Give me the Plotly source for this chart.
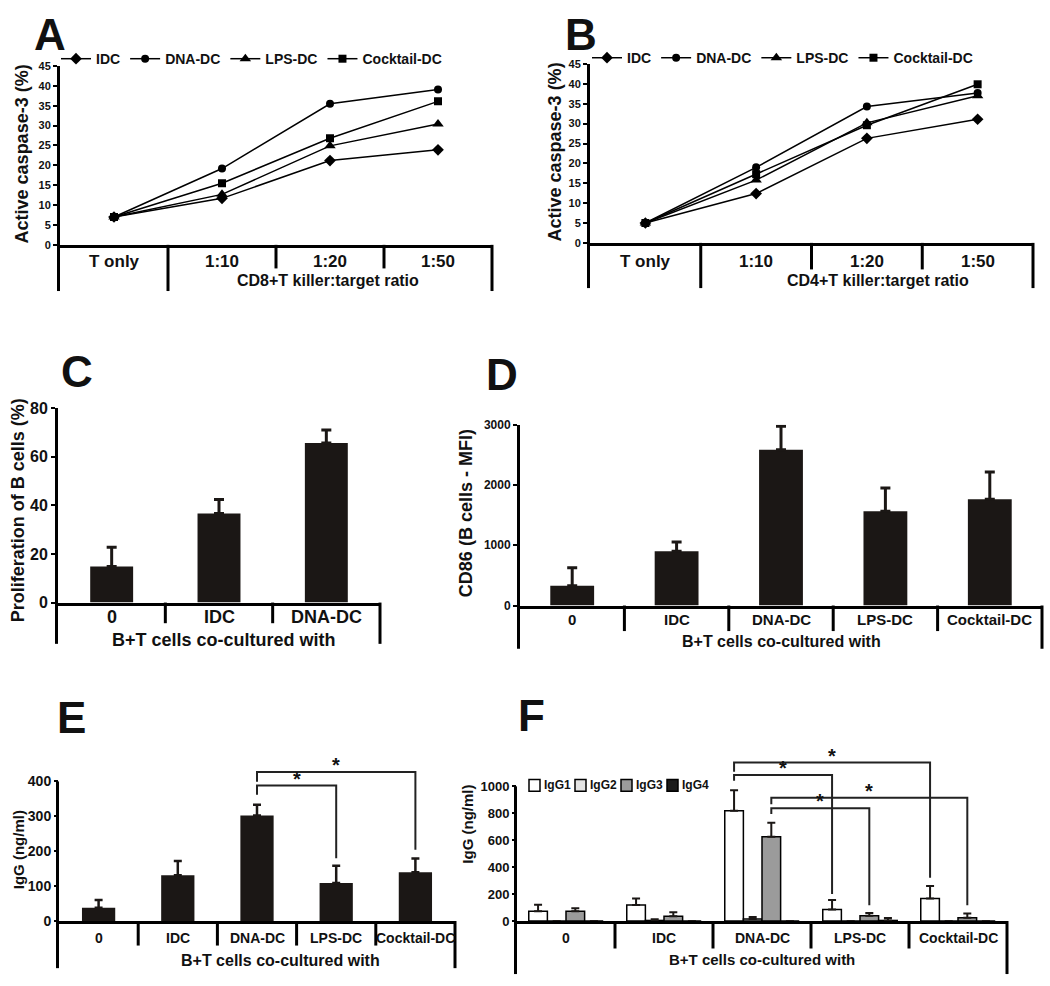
import plotly.graph_objects as go

# ---------------- data ----------------
ratios = ['T only', '1:10', '1:20', '1:50']
dc_names = ['IDC', 'DNA-DC', 'LPS-DC', 'Cocktail-DC']

# A: CD8+ T cells, active caspase-3 (%)
a_idc = [7.0, 11.7, 21.2, 23.9]
a_dna = [7.0, 19.2, 35.5, 39.1]
a_lps = [7.0, 12.7, 24.9, 30.4]
a_cocktail = [7.0, 15.5, 26.8, 36.1]

# B: CD4+ T cells, active caspase-3 (%)
b_idc = [5.0, 12.4, 26.3, 31.1]
b_dna = [5.0, 19.0, 34.3, 37.7]
b_lps = [5.0, 15.8, 30.2, 37.0]
b_cocktail = [5.0, 17.3, 29.6, 39.9]

coculture = ['0', 'IDC', 'DNA-DC', 'LPS-DC', 'Cocktail-DC']

# C: proliferation of B cells (%)
c_groups = ['0', 'IDC', 'DNA-DC']
c_prolif = [14.8, 36.6, 65.6]
c_sd = [7.9, 5.8, 5.3]

# D: CD86 MFI on B cells
d_cd86 = [330, 900, 2585, 1565, 1765]
d_sd = [295, 155, 390, 385, 450]

# E: total IgG (ng/ml)
e_igg = [38, 131, 302, 109, 140]
e_sd = [22, 41, 31, 49, 39]

# F: IgG subclasses (ng/ml)
igg_sub = ['IgG1', 'IgG2', 'IgG3', 'IgG4']
f_igg1 = [72, 118, 818, 86, 167]
f_igg1_sd = [48, 49, 153, 70, 92]
f_igg2 = [0, 4, 15, 0, 0]
f_igg2_sd = [0, 8, 15, 0, 0]
f_igg3 = [72, 36, 625, 38, 24]
f_igg3_sd = [23, 29, 104, 22, 31]
f_igg4 = [0, 0, 0, 4, 0]
f_igg4_sd = [0, 0, 0, 18, 0]

# significance comparisons
e_sig = [('DNA-DC', 'LPS-DC'), ('DNA-DC', 'Cocktail-DC')]
f_sig = [('DNA-DC', 'LPS-DC', 'IgG1'), ('DNA-DC', 'Cocktail-DC', 'IgG1'),
         ('DNA-DC', 'LPS-DC', 'IgG3'), ('DNA-DC', 'Cocktail-DC', 'IgG3')]

# ---------------- layout helpers ----------------
W, H = 1050, 986
FONT = 'Liberation Sans, Arial, sans-serif'
INK = '#1b1715'
BARGAP = 0.24


def fx(px):
    return px / W


def fy(py):
    return 1 - py / H


def bold(size, family=FONT):
    return dict(family=family, size=size, weight='bold', color='#111')


fig = go.Figure()
annots = []
shapes = []


def text(x, y, s, font, xref='paper', yref='paper', angle=0, **kw):
    kw.setdefault('xanchor', 'center')
    kw.setdefault('yanchor', 'middle')
    annots.append(dict(x=x, y=y, xref=xref, yref=yref, text=s, font=font,
                       showarrow=False, textangle=angle, **kw))


def panel(i, left, right, top, bottom, yrange, cats, yticks, tickfont, base, mid,
          full, catfont, cat_y, title, title_xy, titlefont, yline=True):
    sfx = '' if i == 1 else str(i)
    n = len(cats)
    fig.update_layout(**{
        'xaxis' + sfx: dict(domain=[fx(left), fx(right)], range=[-0.5, n - 0.5],
                            anchor='y' + sfx, showline=True, linewidth=3,
                            linecolor='black', ticks='', showticklabels=False,
                            showgrid=False, zeroline=False),
        'yaxis' + sfx: dict(domain=[fy(bottom), fy(top)], range=yrange,
                            anchor='x' + sfx, showline=yline, linewidth=3,
                            linecolor='black', ticks='outside', ticklen=4,
                            tickwidth=2, tickcolor='black', tickvals=yticks,
                            tickfont=tickfont, showgrid=False, zeroline=False),
    })
    # category separators hanging below the x axis (outer / grouping ones are longer)
    for k in range(n + 1):
        x = left + k * (right - left) / n - (1.5 if k == 0 else 0)
        end = base if (k == 0 or k == n or k in full) else mid
        shapes.append(dict(type='line', xref='paper', yref='paper',
                           x0=fx(x), x1=fx(x), y0=fy(bottom), y1=fy(end),
                           line=dict(color='black', width=3)))
    for k, c in enumerate(cats):
        text(k, fy(cat_y), c, catfont, xref='x' + sfx)
    text(fx(title_xy[0]), fy(title_xy[1]), title, titlefont)
    if not yline:
        shapes.append(dict(type='line', xref='paper', yref='y' + sfx,
                           x0=fx(left - 1.5), x1=fx(left - 1.5),
                           y0=0, y1=yticks[-1],
                           line=dict(color='black', width=3)))


# ---------------- panels A / B: lines ----------------
symbols = ['diamond', 'circle', 'triangle-up', 'square']
sizes = [9, 8, 10, 8]
for ys, name, sym, sz in zip([a_idc, a_dna, a_lps, a_cocktail], dc_names, symbols, sizes):
    fig.add_trace(go.Scatter(x=list(range(len(ratios))), y=ys, name=name,
                             mode='lines+markers', xaxis='x', yaxis='y', legend='legend',
                             line=dict(color='black', width=1.5),
                             marker=dict(symbol=sym, size=sz, color='black')))
for ys, name, sym, sz in zip([b_idc, b_dna, b_lps, b_cocktail], dc_names, symbols, sizes):
    fig.add_trace(go.Scatter(x=list(range(len(ratios))), y=ys, name=name,
                             mode='lines+markers', xaxis='x2', yaxis='y2', legend='legend2',
                             line=dict(color='black', width=1.5),
                             marker=dict(symbol=sym, size=sz, color='black')))

panel(1, 60, 492, 59, 241, [0, 45], ratios, list(range(0, 46, 5)), bold(11), 288, 265,
      [1], bold(17), 258, 'CD8+T killer:target ratio', (328, 277), bold(16))
panel(2, 590, 1033, 57, 239, [0, 45], ratios, list(range(0, 46, 5)), bold(11), 285, 266,
      [1], bold(17), 258, 'CD4+T killer:target ratio', (878, 277), bold(16))


def err(sd, w, t=3):
    return dict(type='data', array=sd, arrayminus=[0] * len(sd), symmetric=False,
                color=INK, thickness=t, width=w)


# ---------------- panel C ----------------
fig.add_trace(go.Bar(x=list(range(len(c_prolif))), y=c_prolif, width=0.4,
                     marker=dict(color=INK, line=dict(width=0)),
                     error_y=err(c_sd, 5), xaxis='x3', yaxis='y3', showlegend=False))
panel(3, 58, 380, 407, 605, [0, 80], c_groups, [0, 20, 40, 60, 80], bold(16), 647, 626,
      [], bold(18), 620, 'B+T cells co-cultured with', (224, 643), bold(18))

# ---------------- panel D ----------------
fig.add_trace(go.Bar(x=list(range(len(d_cd86))), y=d_cd86, width=0.42,
                     marker=dict(color=INK, line=dict(width=0)),
                     error_y=err(d_sd, 5), xaxis='x4', yaxis='y4', showlegend=False))
panel(4, 520, 1042, 424, 608, [0, 3000], coculture, [0, 1000, 2000, 3000],
      bold(12), 652, 634, [], bold(15), 622, 'B+T cells co-cultured with',
      (781, 645), bold(16))

# ---------------- panel E ----------------
e_top = 929 - (929 - 787) * 480 / 400
fig.add_trace(go.Bar(x=list(range(len(e_igg))), y=e_igg, width=0.42,
                     marker=dict(color=INK, line=dict(width=0)),
                     error_y=err(e_sd, 4, 2.5), xaxis='x5', yaxis='y5', showlegend=False))
panel(5, 59, 455, e_top, 929, [0, 480], coculture, [0, 100, 200, 300, 400], bold(14),
      977, 954, [], bold(14), 946, 'B+T cells co-cultured with', (280, 969), bold(16),
      yline=False)

# ---------------- panel F ----------------
f_top = 929 - (929 - 792) * 1300 / 1000
f_colors = ['#ffffff', '#e4e4e4', '#9b9b9b', '#1b1b1b']
for ys, sd, name, col in zip([f_igg1, f_igg2, f_igg3, f_igg4],
                             [f_igg1_sd, f_igg2_sd, f_igg3_sd, f_igg4_sd],
                             igg_sub, f_colors):
    fig.add_trace(go.Bar(x=list(range(len(coculture))), y=ys, name=name,
                         marker=dict(color=col, line=dict(color='black', width=1.5)),
                         error_y=err(sd, 4, 2), xaxis='x6', yaxis='y6', showlegend=False))
panel(6, 517, 1007, f_top, 929, [0, 1300], coculture, [0, 200, 400, 600, 800, 1000],
      bold(13), 983, 957, [], bold(14), 946, 'B+T cells co-cultured with', (762, 968),
      bold(15), yline=False)

# compact legend for F
for j, (name, col) in enumerate(zip(igg_sub, f_colors)):
    bx = 529 + j * 46
    shapes.append(dict(type='rect', xref='paper', yref='paper',
                       x0=fx(bx), x1=fx(bx + 11), y0=fy(797), y1=fy(785),
                       fillcolor=col, line=dict(color='black', width=1.5)))
    text(fx(bx + 13), fy(791), name, bold(12), xanchor='left')

# ---------------- significance brackets ----------------
e_levels = [(388, 362, 180), (427, 399, 204)]
for (g1, g2), (yt, yl, yr) in zip(e_sig, e_levels):
    xa, xb = coculture.index(g1), coculture.index(g2)
    shapes.append(dict(type='path', xref='x5', yref='y5',
                       path=f'M {xa},{yl} L {xa},{yt} L {xb},{yt} L {xb},{yr}',
                       line=dict(color='#222', width=2)))
    text((xa + xb) / 2, yt, '*', bold(20), xref='x5', yref='y5', yanchor='bottom', yshift=-6)

bw = (1 - BARGAP) / len(igg_sub)
f_levels = [(1085, 1041, 201), (1177, 1109, 322), (838, 794, 116), (915, 867, 116)]
for (g1, g2, sub), (yt, yl, yr) in zip(f_sig, f_levels):
    off = (igg_sub.index(sub) - 1.5) * bw
    xa, xb = coculture.index(g1) + off, coculture.index(g2) + off
    shapes.append(dict(type='path', xref='x6', yref='y6',
                       path=f'M {xa},{yl} L {xa},{yt} L {xb},{yt} L {xb},{yr}',
                       line=dict(color='#222', width=2)))
    text((xa + xb) / 2, yt, '*', bold(20), xref='x6', yref='y6', yanchor='bottom', yshift=-6)

# ---------------- y titles and panel letters ----------------
text(fx(22), fy(149), 'Active caspase-3 (%)', bold(18), angle=-90)
text(fx(555), fy(147), 'Active caspase-3 (%)', bold(18), angle=-90)
text(fx(18), fy(511), 'Proliferation of B cells (%)', bold(18), angle=-90)
text(fx(466), fy(514), 'CD86 (B cells - MFI)', bold(18), angle=-90)
text(fx(18), fy(857), 'IgG (ng/ml)', bold(15), angle=-90)
text(fx(468), fy(831), 'IgG (ng/ml)', bold(15), angle=-90)

for letter, (lx, ly) in zip('ABCDEF', [(50, 27), (581, 27), (77, 370), (502, 373),
                                       (71, 722), (531, 720)]):
    text(fx(lx), fy(ly), letter, bold(44))

legend_style = dict(orientation='h', xanchor='left', yanchor='middle', itemwidth=30,
                    font=bold(14), bgcolor='rgba(0,0,0,0)', traceorder='normal',
                    itemclick=False, itemdoubleclick=False)

fig.update_layout(
    width=W, height=H, autosize=False,
    margin=dict(l=0, r=0, t=0, b=0),
    paper_bgcolor='white', plot_bgcolor='white',
    barmode='group', bargap=BARGAP, bargroupgap=0,
    legend=dict(x=fx(56), y=fy(52), **legend_style),
    legend2=dict(x=fx(587), y=fy(51), **legend_style),
    annotations=annots, shapes=shapes,
    font=dict(family=FONT, color='#111'),
)

# drop the default page margin so the figure sits at the window's top-left corner
fig.write_html('out.html', config={'displayModeBar': False},
               post_script="document.body.style.margin='0';")
